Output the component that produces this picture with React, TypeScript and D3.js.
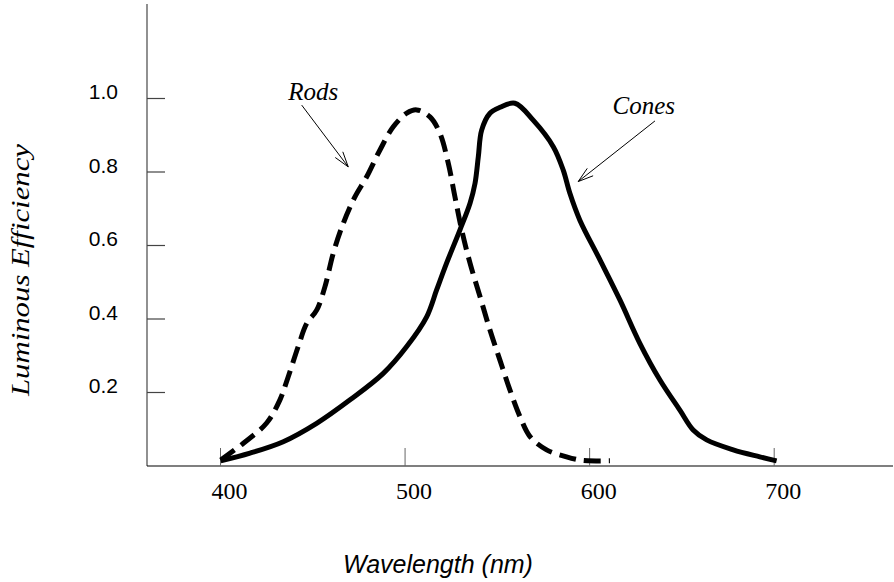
import React from "react";
import * as d3 from "d3";

// Wavelength (nm) and luminous efficiency samples
const rodWavelengths = [400.1, 412.4, 425.0, 432.2, 436.7, 442.1, 446.7, 452.1, 456.6, 461.1, 466.5, 472.9, 479.2, 486.4, 493.6, 500.9, 506.3, 513.5, 518.9, 523.4, 527.0, 530.7, 535.2, 540.6, 546.0, 551.4, 556.8, 562.3, 567.7, 576.7, 587.5, 594.8, 599.1, 611.0];
const rodValues = [0.016, 0.062, 0.117, 0.18, 0.243, 0.325, 0.388, 0.424, 0.488, 0.579, 0.66, 0.733, 0.787, 0.86, 0.923, 0.96, 0.969, 0.95, 0.905, 0.824, 0.733, 0.642, 0.552, 0.461, 0.37, 0.288, 0.207, 0.134, 0.08, 0.044, 0.025, 0.016, 0.014, 0.014];

const coneWavelengths = [400.1, 416.0, 434.0, 452.1, 470.2, 488.2, 500.9, 511.7, 517.1, 522.5, 529.7, 535.2, 537.9, 539.7, 541.5, 546.0, 551.4, 559.5, 569.4, 580.3, 585.7, 589.3, 594.7, 605.6, 616.4, 627.2, 638.1, 648.9, 656.1, 663.4, 677.8, 692.2, 701.3];
const coneValues = [0.014, 0.035, 0.066, 0.116, 0.18, 0.252, 0.325, 0.406, 0.479, 0.552, 0.642, 0.715, 0.769, 0.842, 0.914, 0.96, 0.976, 0.987, 0.941, 0.869, 0.805, 0.742, 0.669, 0.561, 0.452, 0.334, 0.234, 0.152, 0.098, 0.071, 0.044, 0.025, 0.014];

const xTicks = [400, 500, 600, 700];
const xTickLabels = ["400", "500", "600", "700"];
const yTicks = [0.2, 0.4, 0.6, 0.8, 1.0];
const yTickLabels = ["0.2", "0.4", "0.6", "0.8", "1.0"];

// annotations in data space: label anchor and arrow from -> to
const annotationNames = ["Rods", "Cones"];
const annotationLabelAt = [[450.3, 0.996], [629.3, 0.957]];
const annotationArrowFrom = [[444.0, 0.982], [635.4, 0.939]];
const annotationArrowTo = [[469.2, 0.814], [593.8, 0.774]];

const W = 894;
const H = 582;

export default function App() {
  const x = d3.scaleLinear().domain([400, 700]).range([220.5, 774.2]);
  const y = d3.scaleLinear().domain([0, 1]).range([466, 98.5]);
  const axisX = 147;
  const axisY = 466;

  const line = d3
    .line<[number, number]>()
    .x((d) => x(d[0]))
    .y((d) => y(d[1]))
    .curve(d3.curveCatmullRom.alpha(0.5));

  const rods = line(rodWavelengths.map((w, i) => [w, rodValues[i]] as [number, number])) || "";
  const cones = line(coneWavelengths.map((w, i) => [w, coneValues[i]] as [number, number])) || "";

  const arrowHead = (x1: number, y1: number, x2: number, y2: number) => {
    const ang = Math.atan2(y2 - y1, x2 - x1);
    const len = 16;
    const spread = 0.3;
    const a1 = ang + Math.PI - spread;
    const a2 = ang + Math.PI + spread;
    return `M${x2 + len * Math.cos(a1)},${y2 + len * Math.sin(a1)}L${x2},${y2}L${x2 + len * Math.cos(a2)},${y2 + len * Math.sin(a2)}`;
  };

  return (
    <svg
      width={W}
      height={H}
      style={{ position: "absolute", left: 0, top: 0, background: "#fff" }}
    >
      <rect x={0} y={0} width={W} height={H} fill="#fff" />
      {/* axes */}
      <line x1={axisX} y1={4} x2={axisX} y2={axisY} stroke="#555" strokeWidth={1.3} />
      <line x1={axisX} y1={axisY} x2={893} y2={axisY} stroke="#000" strokeWidth={1.2} />
      {yTicks.map((t, i) => (
        <g key={"yt" + i}>
          <line x1={axisX} y1={y(t)} x2={axisX + 18} y2={y(t)} stroke="#444" strokeWidth={1.2} />
          <text
            x={118}
            y={y(t) + 0.5}
            textAnchor="end"
            fontFamily="Liberation Sans, Arial, sans-serif"
            fontSize={21}
            fill="#000"
          >
            {yTickLabels[i]}
          </text>
        </g>
      ))}
      {xTicks.map((t, i) => (
        <g key={"xt" + i}>
          <line x1={x(t)} y1={axisY - 18} x2={x(t)} y2={axisY} stroke="#666" strokeWidth={1} />
          <text
            x={x(t) + 9}
            y={499}
            textAnchor="middle"
            fontFamily="Liberation Serif, Times New Roman, serif"
            fontSize={24}
            fill="#000"
          >
            {xTickLabels[i]}
          </text>
        </g>
      ))}

      {/* curves */}
      <path d={rods} fill="none" stroke="#000" strokeWidth={5} strokeDasharray="17 8" />
      <path d={cones} fill="none" stroke="#000" strokeWidth={5} strokeLinejoin="miter" />

      {/* annotations */}
      {annotationNames.map((name, i) => {
        const [lx, ly] = annotationLabelAt[i];
        const [fx, fy] = annotationArrowFrom[i];
        const [tx, ty] = annotationArrowTo[i];
        const x1 = x(fx), y1 = y(fy), x2 = x(tx), y2 = y(ty);
        return (
          <g key={name}>
            <text
              x={x(lx)}
              y={y(ly)}
              textAnchor="middle"
              fontFamily="Liberation Serif, Times New Roman, serif"
              fontStyle="italic"
              fontSize={25}
              fill="#000"
            >
              {name}
            </text>
            <line x1={x1} y1={y1} x2={x2} y2={y2} stroke="#000" strokeWidth={1} />
            <path d={arrowHead(x1, y1, x2, y2)} fill="none" stroke="#000" strokeWidth={1} />
          </g>
        );
      })}

      {/* axis titles */}
      <text
        x={438}
        y={573}
        textAnchor="middle"
        fontFamily="Liberation Sans, Arial, sans-serif"
        fontStyle="italic"
        fontSize={25}
        fill="#000"
      >
        Wavelength (nm)
      </text>
      <text
        transform="translate(28.5,270) rotate(-90)"
        textAnchor="middle"
        fontFamily="Liberation Serif, Times New Roman, serif"
        fontStyle="italic"
        fontSize={25}
        textLength={252}
        lengthAdjust="spacingAndGlyphs"
        fill="#000"
      >
        Luminous Efficiency
      </text>
    </svg>
  );
}
